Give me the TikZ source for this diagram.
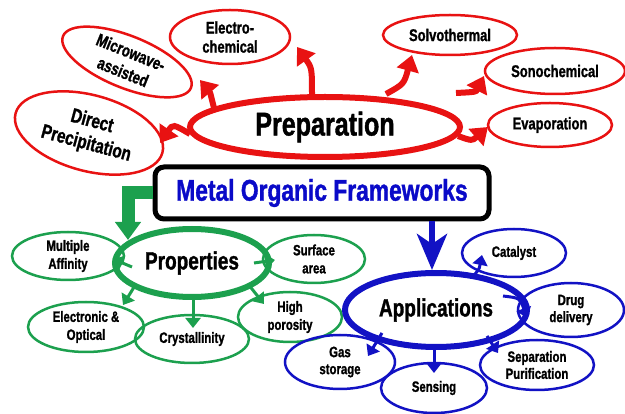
\documentclass[tikz,border=0pt]{standalone}
\usepackage{fontspec}
\setmainfont{Liberation Sans}[FakeStretch=0.76, BoldFeatures={FakeBold=1.2}]
\usetikzlibrary{shapes.geometric,arrows.meta,calc}
\definecolor{mred}{RGB}{232,18,18}
\definecolor{mgreen}{RGB}{28,160,78}
\definecolor{mblue}{RGB}{18,18,196}
\definecolor{mtblue}{RGB}{10,10,200}
\begin{document}
\begin{tikzpicture}[x=1pt,y=-1pt,
 el/.style={ellipse, inner sep=0pt, align=center, text=black},
 sz/.style 2 args={minimum width=#1pt, minimum height=#2pt},
 rel/.style={el, draw=mred, line width=2.5pt, font=\bfseries\fontsize{17}{19}\selectfont},
 gel/.style={el, draw=mgreen, line width=2.5pt, font=\bfseries\fontsize{15}{18}\selectfont},
 bel/.style={el, draw=mblue, line width=2.5pt, font=\bfseries\fontsize{15}{17}\selectfont},
 rarr/.style={draw=mred, line width=6pt, -{Triangle[length=16pt,width=22pt]}},
 garr/.style={draw=mgreen, line width=3pt, -{Triangle[length=10pt,width=15pt]}},
 barr/.style={draw=mblue, line width=3pt, -{Triangle[length=10pt,width=15pt]}},
]
\useasboundingbox (0,0) rectangle (625,414);

% preparation group
\node[el, draw=mred, line width=6pt, sz={270}{60}, font=\bfseries\fontsize{33}{36}\selectfont] (prep) at (325,127) {Preparation};
\node[rel, sz={120}{54}] (electro) at (230,37) {Electro-\\chemical};
\node[rel, rotate=-22, sz={138}{52}, font=\bfseries\fontsize{17.5}{21}\selectfont] (micro) at (127,62) {Microwave-\\assisted};
\node[rel, rotate=-15, sz={152}{76}, font=\bfseries\fontsize{20}{23}\selectfont] (direct) at (89,133) {Direct\\Precipitation};
\node[rel, sz={134}{40}] (solvo) at (450,35) {Solvothermal};
\node[rel, sz={140}{46}] (sono) at (555,71) {Sonochemical};
\node[rel, sz={124}{44}] (evap) at (550,125) {Evaporation};

% MOF box
\node[draw=black, line width=5pt, rounded corners=9pt, minimum width=334pt, minimum height=52pt, text=mtblue, font=\bfseries\fontsize{30}{33}\selectfont] (mof) at (322,193) {Metal Organic Frameworks};

% properties group
\node[el, draw=mgreen, line width=6pt, sz={154}{68}, font=\bfseries\fontsize{25}{28}\selectfont] (prop) at (192,263) {Properties};
\node[gel, sz={112}{48}] (multi) at (68,256) {Multiple\\Affinity};
\node[gel, sz={102}{48}] (surf) at (314,259) {Surface\\area};
\node[gel, sz={104}{50}] (high) at (290,317) {High\\porosity};
\node[gel, sz={116}{50}] (elec) at (86,327) {Electronic \&\\Optical};
\node[gel, sz={114}{48}] (crys) at (192,339) {Crystallinity};

% applications group
\node[el, draw=mblue, line width=6pt, sz={182}{74}, font=\bfseries\fontsize{25}{28}\selectfont] (apps) at (436,310) {Applications};
\node[bel, sz={104}{48}] (cat) at (514,253) {Catalyst};
\node[bel, sz={106}{54}] (drug) at (571,310) {Drug\\delivery};
\node[bel, sz={114}{50}] (sep) at (537,365) {Separation\\Purification};
\node[bel, sz={106}{50}] (sens) at (434,388) {Sensing};
\node[bel, sz={110}{54}] (gas) at (340,362) {Gas\\storage};

% red arrows
\draw[rarr] ($(prep)+(-135,7)$) .. controls ($(prep)+(-152,-3)$) .. ($(direct)+(71,10)$);
\draw[rarr] ($(prep)+(-111,-19)$) .. controls ($(prep)+(-115,-35)$) .. ($(micro)+(73,18)$);
\draw[rarr] ($(prep)+(-13,-30)$) .. controls ($(prep)+(-13,-59)$) .. ($(electro)+(67,10)$);
\draw[rarr] ($(prep)+(61,-33)$) .. controls ($(prep)+(79,-43)$) .. ($(solvo)+(-38,20)$);
\draw[rarr] ($(prep)+(131,-34)$) .. controls ($(prep)+(151,-35)$) .. ($(sono)+(-71,5)$);
\draw[rarr] ($(prep)+(133,9)$) .. controls ($(prep)+(147,14)$) .. ($(evap)+(-62,2)$);

% big connectors
\draw[draw=mgreen, line width=13pt, line join=miter, -{Triangle[length=18pt,width=25pt]}] (mof.west) -| ($(prop)+(-64,-23)$);
\draw[draw=mblue, line width=6pt, -{Stealth[length=36pt,width=30pt,inset=10pt]}] ($(mof.south -| apps.north)+(-4,0)$) -- ($(apps.north)+(-4,0)$);

% green arrows
\draw[garr] ($(prop)+(-60,4)$) -- ($(multi)+(45,3)$);
\draw[garr] ($(prop)+(62,0)$) -- ($(surf)+(-39,1)$);
\draw[garr] ($(prop)+(-56,21)$) -- ($(elec)+(37,-22)$);
\draw[garr] ($(prop)+(1,35)$) -- ($(crys)+(1,-11)$);
\draw[garr] ($(prop)+(56,21)$) -- ($(high)+(-26,-13)$);

% blue arrows
\draw[barr] ($(apps)+(35,-32)$) .. controls ($(apps)+(43,-40)$) .. ($(cat)+(-32,2)$);
\draw[barr] ($(apps)+(67,-14)$) .. controls ($(apps)+(84,-12)$) .. ($(drug)+(-44,8)$);
\draw[barr] ($(apps)+(51,26)$) -- ($(sep)+(-39,-12)$);
\draw[barr] ($(apps)+(-2,36)$) -- ($(sens)+(0,-15)$);
\draw[barr] ($(apps)+(-54,23)$) -- ($(gas)+(28,-6)$);
\end{tikzpicture}
\end{document}
